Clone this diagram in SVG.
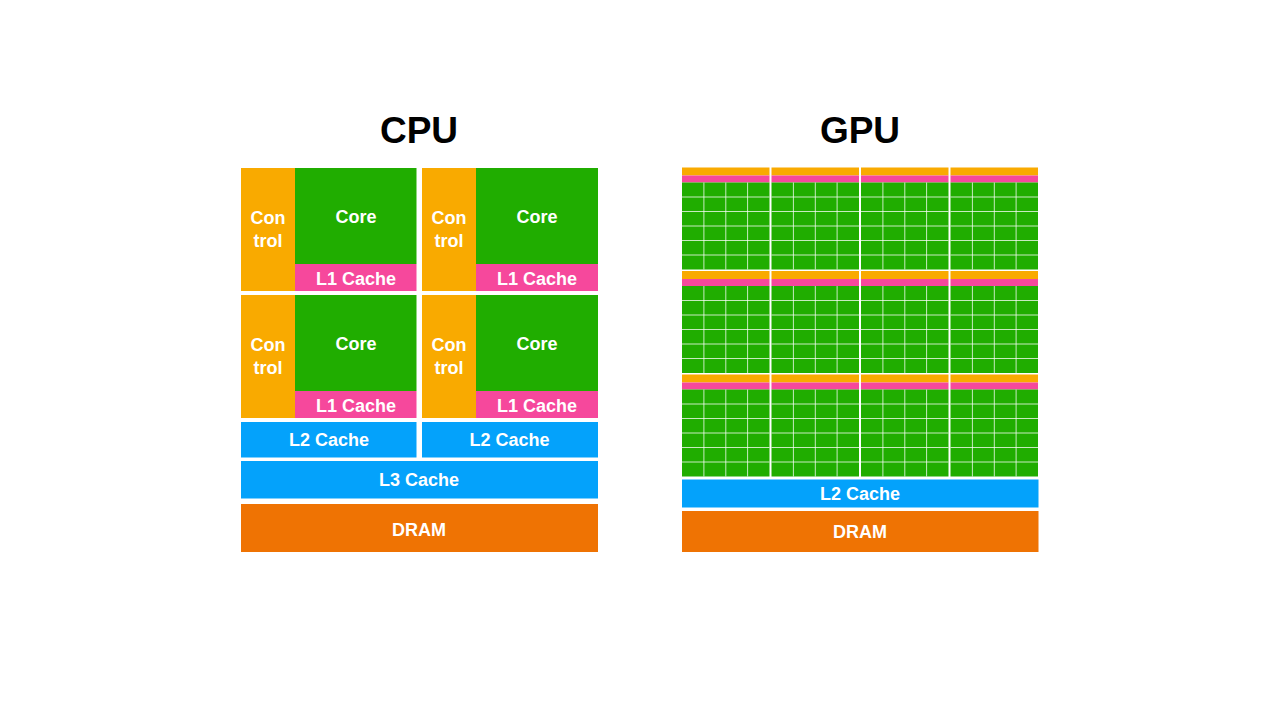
<svg xmlns="http://www.w3.org/2000/svg" xmlns:xlink="http://www.w3.org/1999/xlink" width="1280" height="720" viewBox="0 0 1280 720">
  <style>
    .ctl { fill: #F9AA00; }
    .core { fill: #20AD00; }
    .l1 { fill: #F6489C; }
    .blue { fill: #04A2FB; }
    .dram { fill: #EF7303; }
    .lbl { font-family: "Liberation Sans", Arial, sans-serif; font-weight: bold; font-size: 18px; fill: #FFFFFF; text-anchor: middle; }
    .title { font-family: "Liberation Sans", Arial, sans-serif; font-weight: bold; font-size: 37px; fill: #000000; text-anchor: middle; }
    .grid { stroke: #FFFFFF; stroke-opacity: 0.75; stroke-width: 1; fill: none; }
  </style>
  <defs>
    <g id="sm">
      <rect class="ctl" x="0" y="0" width="87.5" height="8"/>
      <rect class="l1" x="0" y="8" width="87.5" height="7"/>
      <rect class="core" x="0" y="15" width="87.5" height="87"/>
      <path class="grid" d="M21.9 15V102M43.8 15V102M65.6 15V102M0 29.5H87.5M0 44H87.5M0 58.5H87.5M0 73H87.5M0 87.5H87.5"/>
    </g>
  </defs>
  <rect width="1280" height="720" fill="#FFFFFF"/>

  <g id="cpu">
    <text class="title" x="419" y="142.5">CPU</text>

    <g id="cpu-core-1">
      <rect class="ctl" x="241" y="168" width="54" height="123"/>
      <rect class="core" x="295" y="168" width="121.5" height="96"/>
      <rect class="l1" x="295" y="264" width="121.5" height="27"/>
      <text class="lbl" x="268" y="224">Con</text>
      <text class="lbl" x="268" y="247">trol</text>
      <text class="lbl" x="356" y="222.5">Core</text>
      <text class="lbl" x="356" y="285">L1 Cache</text>
    </g>
    <g id="cpu-core-2">
      <rect class="ctl" x="422" y="168" width="54" height="123"/>
      <rect class="core" x="476" y="168" width="122" height="96"/>
      <rect class="l1" x="476" y="264" width="122" height="27"/>
      <text class="lbl" x="449" y="224">Con</text>
      <text class="lbl" x="449" y="247">trol</text>
      <text class="lbl" x="537" y="222.5">Core</text>
      <text class="lbl" x="537" y="285">L1 Cache</text>
    </g>
    <g id="cpu-core-3">
      <rect class="ctl" x="241" y="295" width="54" height="123"/>
      <rect class="core" x="295" y="295" width="121.5" height="96"/>
      <rect class="l1" x="295" y="391" width="121.5" height="27"/>
      <text class="lbl" x="268" y="351">Con</text>
      <text class="lbl" x="268" y="374">trol</text>
      <text class="lbl" x="356" y="349.5">Core</text>
      <text class="lbl" x="356" y="412">L1 Cache</text>
    </g>
    <g id="cpu-core-4">
      <rect class="ctl" x="422" y="295" width="54" height="123"/>
      <rect class="core" x="476" y="295" width="122" height="96"/>
      <rect class="l1" x="476" y="391" width="122" height="27"/>
      <text class="lbl" x="449" y="351">Con</text>
      <text class="lbl" x="449" y="374">trol</text>
      <text class="lbl" x="537" y="349.5">Core</text>
      <text class="lbl" x="537" y="412">L1 Cache</text>
    </g>
    <g id="cpu-l2-1">
      <rect class="blue" x="241" y="422" width="175.5" height="35.5"/>
      <text class="lbl" x="329" y="446">L2 Cache</text>
    </g>
    <g id="cpu-l2-2">
      <rect class="blue" x="422" y="422" width="176" height="35.5"/>
      <text class="lbl" x="509.5" y="446">L2 Cache</text>
    </g>
    <g id="cpu-l3">
      <rect class="blue" x="241" y="461" width="357" height="37.5"/>
      <text class="lbl" x="419" y="486">L3 Cache</text>
    </g>
    <g id="cpu-dram">
      <rect class="dram" x="241" y="504" width="357" height="48"/>
      <text class="lbl" x="419" y="535.5">DRAM</text>
    </g>
  </g>

  <g id="gpu">
    <text class="title" x="860" y="142.5">GPU</text>

    <g id="gpu-sm-1-1"><use xlink:href="#sm" href="#sm" x="682" y="167.5"/></g>
    <g id="gpu-sm-1-2"><use xlink:href="#sm" href="#sm" x="771.5" y="167.5"/></g>
    <g id="gpu-sm-1-3"><use xlink:href="#sm" href="#sm" x="861" y="167.5"/></g>
    <g id="gpu-sm-1-4"><use xlink:href="#sm" href="#sm" x="950.5" y="167.5"/></g>
    <g id="gpu-sm-2-1"><use xlink:href="#sm" href="#sm" x="682" y="271"/></g>
    <g id="gpu-sm-2-2"><use xlink:href="#sm" href="#sm" x="771.5" y="271"/></g>
    <g id="gpu-sm-2-3"><use xlink:href="#sm" href="#sm" x="861" y="271"/></g>
    <g id="gpu-sm-2-4"><use xlink:href="#sm" href="#sm" x="950.5" y="271"/></g>
    <g id="gpu-sm-3-1"><use xlink:href="#sm" href="#sm" x="682" y="374.5"/></g>
    <g id="gpu-sm-3-2"><use xlink:href="#sm" href="#sm" x="771.5" y="374.5"/></g>
    <g id="gpu-sm-3-3"><use xlink:href="#sm" href="#sm" x="861" y="374.5"/></g>
    <g id="gpu-sm-3-4"><use xlink:href="#sm" href="#sm" x="950.5" y="374.5"/></g>

    <g id="gpu-l2">
      <rect class="blue" x="682" y="479.5" width="356.5" height="28"/>
      <text class="lbl" x="860" y="500">L2 Cache</text>
    </g>
    <g id="gpu-dram">
      <rect class="dram" x="682" y="511" width="356.5" height="41"/>
      <text class="lbl" x="860" y="538">DRAM</text>
    </g>
  </g>

  <g id="connectors"/>
</svg>
